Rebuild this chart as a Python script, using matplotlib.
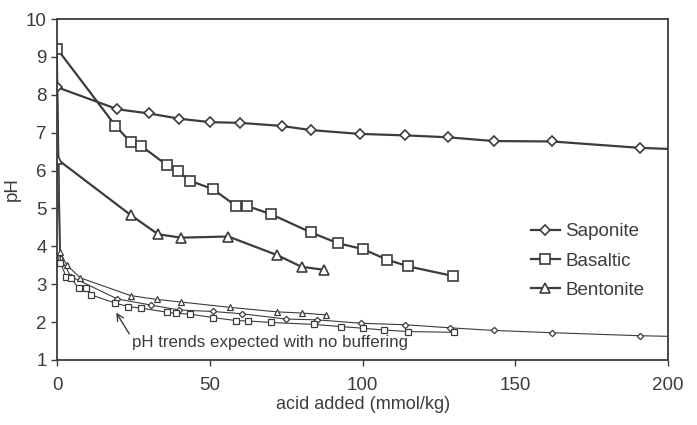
import matplotlib.pyplot as plt

plt.rcParams['font.family'] = ['Liberation Sans', 'DejaVu Sans']

# buffered titrations (measured)
sap_x = [0, 19.7, 30, 40, 50, 60, 73.5, 83, 99, 114, 128, 143, 162, 191, 215]
sap_y = [8.2, 7.62, 7.51, 7.37, 7.28, 7.26, 7.18, 7.07, 6.97, 6.93, 6.88, 6.78, 6.77, 6.60, 6.53]

bas_x = [0, 19, 24, 27.5, 36, 39.5, 43.5, 51, 58.5, 62, 70, 83, 92, 100, 108, 115, 129.5]
bas_y = [9.21, 7.19, 6.75, 6.65, 6.14, 5.98, 5.73, 5.51, 5.07, 5.07, 4.85, 4.37, 4.08, 3.93, 3.65, 3.47, 3.22]

ben_x = [0, 24, 33, 40.5, 56, 72, 80, 87.5]
ben_y = [6.30, 4.83, 4.32, 4.23, 4.26, 3.77, 3.46, 3.38]

# expected trends with no buffering
sap0_x = [0, 1, 4.5, 19.7, 30.7, 40, 51, 60.5, 75, 85, 99.5, 114, 128.5, 143, 162, 191, 215]
sap0_y = [8.2, 3.7, 3.2, 2.61, 2.45, 2.32, 2.28, 2.22, 2.08, 2.06, 1.97, 1.93, 1.85, 1.78, 1.72, 1.64, 1.60]

bas0_x = [0, 1, 3, 4.6, 7, 9.5, 11, 19, 23.3, 27.3, 36, 39, 43.5, 51, 58.5, 62.5, 70, 84,
          93, 100, 107, 115, 130]
bas0_y = [9.21, 3.57, 3.18, 3.16, 2.89, 2.89, 2.72, 2.50, 2.41, 2.37, 2.26, 2.23, 2.21, 2.12,
          2.04, 2.03, 1.99, 1.94, 1.88, 1.84, 1.79, 1.75, 1.73]

ben0_x = [0, 0.8, 3.2, 7.5, 24, 32.5, 40.5, 56.5, 72, 80, 88]
ben0_y = [6.30, 3.85, 3.50, 3.17, 2.70, 2.60, 2.53, 2.39, 2.27, 2.24, 2.19]

c = '#3c3c3c'
fig = plt.figure(figsize=(6.97, 4.25), dpi=100)
ax = fig.add_axes([0.0822, 0.153, 0.876, 0.802])

big = dict(color=c, lw=1.6, mfc='white', mec=c, mew=1.2)
small = dict(color=c, lw=0.8, mfc='white', mec=c, mew=0.9)

ax.plot(sap0_x, sap0_y, marker='D', ms=3.2, **small)
ax.plot(bas0_x, bas0_y, marker='s', ms=4.8, **small)
ax.plot(ben0_x, ben0_y, marker='^', ms=5, **small)

ax.plot(sap_x, sap_y, marker='D', ms=4.8, label='Saponite', **big)
ax.plot(bas_x, bas_y, marker='s', ms=6.5, label='Basaltic', **big)
ax.plot(ben_x, ben_y, marker='^', ms=7, label='Bentonite', **big)

ax.set_xlim(0, 200)
ax.set_ylim(1, 10)
ax.set_xticks([0, 50, 100, 150, 200])
ax.set_yticks(range(1, 11))
ax.tick_params(direction='out', length=4, width=1, labelsize=13.5, colors=c)
ax.tick_params(axis='x', pad=8)
for s in ax.spines.values():
    s.set_linewidth(1.3)
    s.set_color(c)

ax.set_xlabel('acid added (mmol/kg)', fontsize=13, color=c, labelpad=2)
ax.set_ylabel('pH', fontsize=13.5, color=c, labelpad=4)

ax.annotate('pH trends expected with no buffering', xy=(19.3, 2.25), xytext=(24.5, 1.45),
            fontsize=12.2, color=c, va='center', ha='left',
            arrowprops=dict(arrowstyle='->', color=c, lw=1.0, shrinkA=0, shrinkB=0,
                            relpos=(0, 0.8)))

ax.legend(loc='upper left', bbox_to_anchor=(0.755, 0.44), frameon=False, fontsize=13.5,
          handlelength=1.5, handletextpad=0.3, labelspacing=0.65, labelcolor=c,
          borderpad=0.2)

fig.savefig('out.png', dpi=100)
